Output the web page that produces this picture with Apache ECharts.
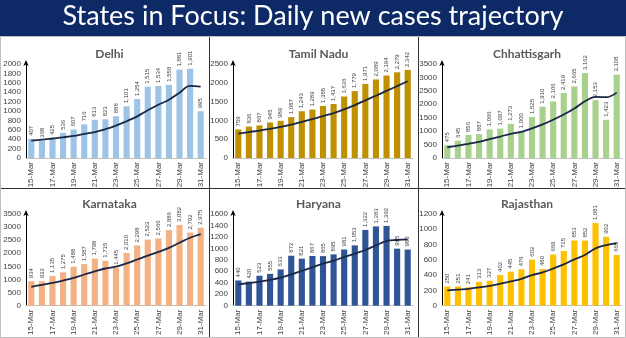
<!DOCTYPE html>
<html>
<head>
<meta charset="utf-8">
<script src="https://cdn.jsdelivr.net/npm/echarts@6/dist/echarts.min.js"></script>
<style>
html,body{margin:0;padding:0;background:#fff;}
#main{width:626px;height:338px;}
</style>
</head>
<body>
<div id="main"></div>
<script>
const chartTitle = 'States in Focus: Daily new cases trajectory';
const dates = ['15-Mar','16-Mar','17-Mar','18-Mar','19-Mar','20-Mar','21-Mar','22-Mar','23-Mar','24-Mar','25-Mar','26-Mar','27-Mar','28-Mar','29-Mar','30-Mar','31-Mar'];

const states = ['Delhi','Tamil Nadu','Chhattisgarh','Karnataka','Haryana','Rajasthan'];

const delhiCases = [407,368,425,536,607,716,813,823,888,1101,1254,1515,1534,1558,1881,1901,995];
const delhiAvg   = [370,390,415,440,470,515,553,613,687,783,886,1016,1133,1239,1390,1535,1520];

const tamilNaduCases = [759,836,867,945,989,1087,1243,1289,1385,1437,1636,1779,1971,2089,2194,2279,2342];
const tamilNaduAvg   = [650,690,730,775,825,890,961,1037,1115,1196,1295,1408,1534,1655,1784,1912,2041];

const chhattisgarhCases = [475,645,856,887,1066,1097,1273,1000,1525,1910,2106,2419,2665,3162,2153,1423,3108];
const chhattisgarhAvg   = [400,460,530,600,700,800,900,975,1101,1251,1425,1619,1843,2112,2277,2263,2434];

const karnatakaCases = [934,932,1135,1275,1488,1587,1798,1715,1445,2010,2298,2523,2566,2886,3082,2792,2975];
const karnatakaAvg   = [720,790,870,960,1060,1190,1307,1419,1492,1617,1763,1911,2051,2206,2401,2594,2732];

const haryanaCases = [440,420,523,555,633,872,821,867,865,895,981,1053,1322,1383,1392,995,980];
const haryanaAvg   = [370,395,420,450,490,545,609,670,734,787,848,908,972,1052,1127,1146,1158];

const rajasthanCases = [250,251,241,313,327,402,445,476,602,480,669,715,853,852,1081,902,665];
const rajasthanAvg   = [200,210,220,240,258,288,318,351,401,435,486,541,606,664,750,793,820];

const allCases = [delhiCases, tamilNaduCases, chhattisgarhCases, karnatakaCases, haryanaCases, rajasthanCases];
const allAvg = [delhiAvg, tamilNaduAvg, chhattisgarhAvg, karnatakaAvg, haryanaAvg, rajasthanAvg];
const yMax = [2000, 2500, 3500, 3500, 1600, 1200];
const yStep = [200, 500, 500, 500, 200, 200];

const barColors = ['#9DC3E6','#BF9000','#A9D18E','#F4B183','#2F5597','#FFC000'];
const lineColor = '#1B2745';
const txt = '#404040';

// layout
const bannerH = 36;
const colX = [0, 209, 418, 626];
const rowY = [bannerH, 188, 338];
const gridLefts = [26, 233, 442];
const gridTops = [64, 214];
const gridW = 180, gridH = 94;

const chart = echarts.init(document.getElementById('main'), null, {renderer:'canvas'});

const grids = [], xAxes = [], yAxes = [], series = [], titles = [];
for (let i = 0; i < 6; i++) {
  const r = Math.floor(i / 3), c = i % 3;
  grids.push({left: gridLefts[c], top: gridTops[r], width: gridW, height: gridH, containLabel: false});
  xAxes.push({
    type: 'category', gridIndex: i, data: dates,
    axisTick: {show: false},
    axisLine: {show: true, lineStyle: {color: '#BFBFBF', width: 1}},
    axisLabel: {rotate: 90, interval: 1, fontSize: 8, color: txt, fontFamily: 'Liberation Sans Narrow, Arial', margin: 4}
  });
  yAxes.push({
    type: 'value', gridIndex: i, min: 0, max: yMax[i], interval: yStep[i],
    splitLine: {show: false},
    axisTick: {show: false},
    axisLine: {show: true, symbol: ['none','arrow'], symbolSize: [4, 6], symbolOffset: [0, 4], lineStyle: {color: '#000', width: 1}},
    axisLabel: {fontSize: 8, color: txt, fontFamily: 'Liberation Sans, Arial', margin: 5, formatter: v => String(v)}
  });
  series.push({
    type: 'bar', xAxisIndex: i, yAxisIndex: i, data: allCases[i],
    barWidth: '58%',
    itemStyle: {color: barColors[i]},
    label: {
      show: true, position: 'top', rotate: 90, align: 'left', verticalAlign: 'middle',
      distance: 3, fontSize: 6, color: txt, fontFamily: 'Liberation Sans, Arial',
      formatter: p => p.value.toLocaleString('en-US')
    },
    z: 2
  });
  series.push({
    type: 'line', xAxisIndex: i, yAxisIndex: i, data: allAvg[i],
    smooth: 0.4, showSymbol: false, symbol: 'none',
    lineStyle: {color: lineColor, width: 1.8},
    z: 3
  });
  titles.push({
    text: states[i],
    left: (colX[c] + colX[c + 1]) / 2, top: r === 0 ? 43 : 193,
    textAlign: 'center',
    textStyle: {fontSize: 12, fontWeight: 'bold', color: '#595959', fontFamily: 'Lato, Open Sans, sans-serif'}
  });
}

const graphics = [
  {type: 'rect', left: 0, top: 0, shape: {width: 626, height: bannerH}, style: {fill: '#0E2A66'}, z: 0},
  {type: 'text', left: 'center', top: 3, style: {text: chartTitle, fill: '#fff', fontSize: 27, fontFamily: 'Lato, Open Sans, sans-serif'}, z: 1},
  {type: 'line', shape: {x1: 0, y1: rowY[1] + 0.5, x2: 626, y2: rowY[1] + 0.5}, style: {stroke: '#303030', lineWidth: 1}},
  {type: 'line', shape: {x1: colX[1] + 0.5, y1: bannerH, x2: colX[1] + 0.5, y2: 338}, style: {stroke: '#303030', lineWidth: 1}},
  {type: 'line', shape: {x1: colX[2] + 0.5, y1: bannerH, x2: colX[2] + 0.5, y2: 338}, style: {stroke: '#303030', lineWidth: 1}},
  {type: 'rect', shape: {x: 0.5, y: bannerH + 0.5, width: 625, height: 338 - bannerH - 1}, style: {fill: 'none', stroke: '#BFBFBF', lineWidth: 1}}
];

chart.setOption({
  animation: false,
  backgroundColor: '#fff',
  title: titles,
  grid: grids,
  xAxis: xAxes,
  yAxis: yAxes,
  series: series,
  graphic: graphics
});
</script>
</body>
</html>
